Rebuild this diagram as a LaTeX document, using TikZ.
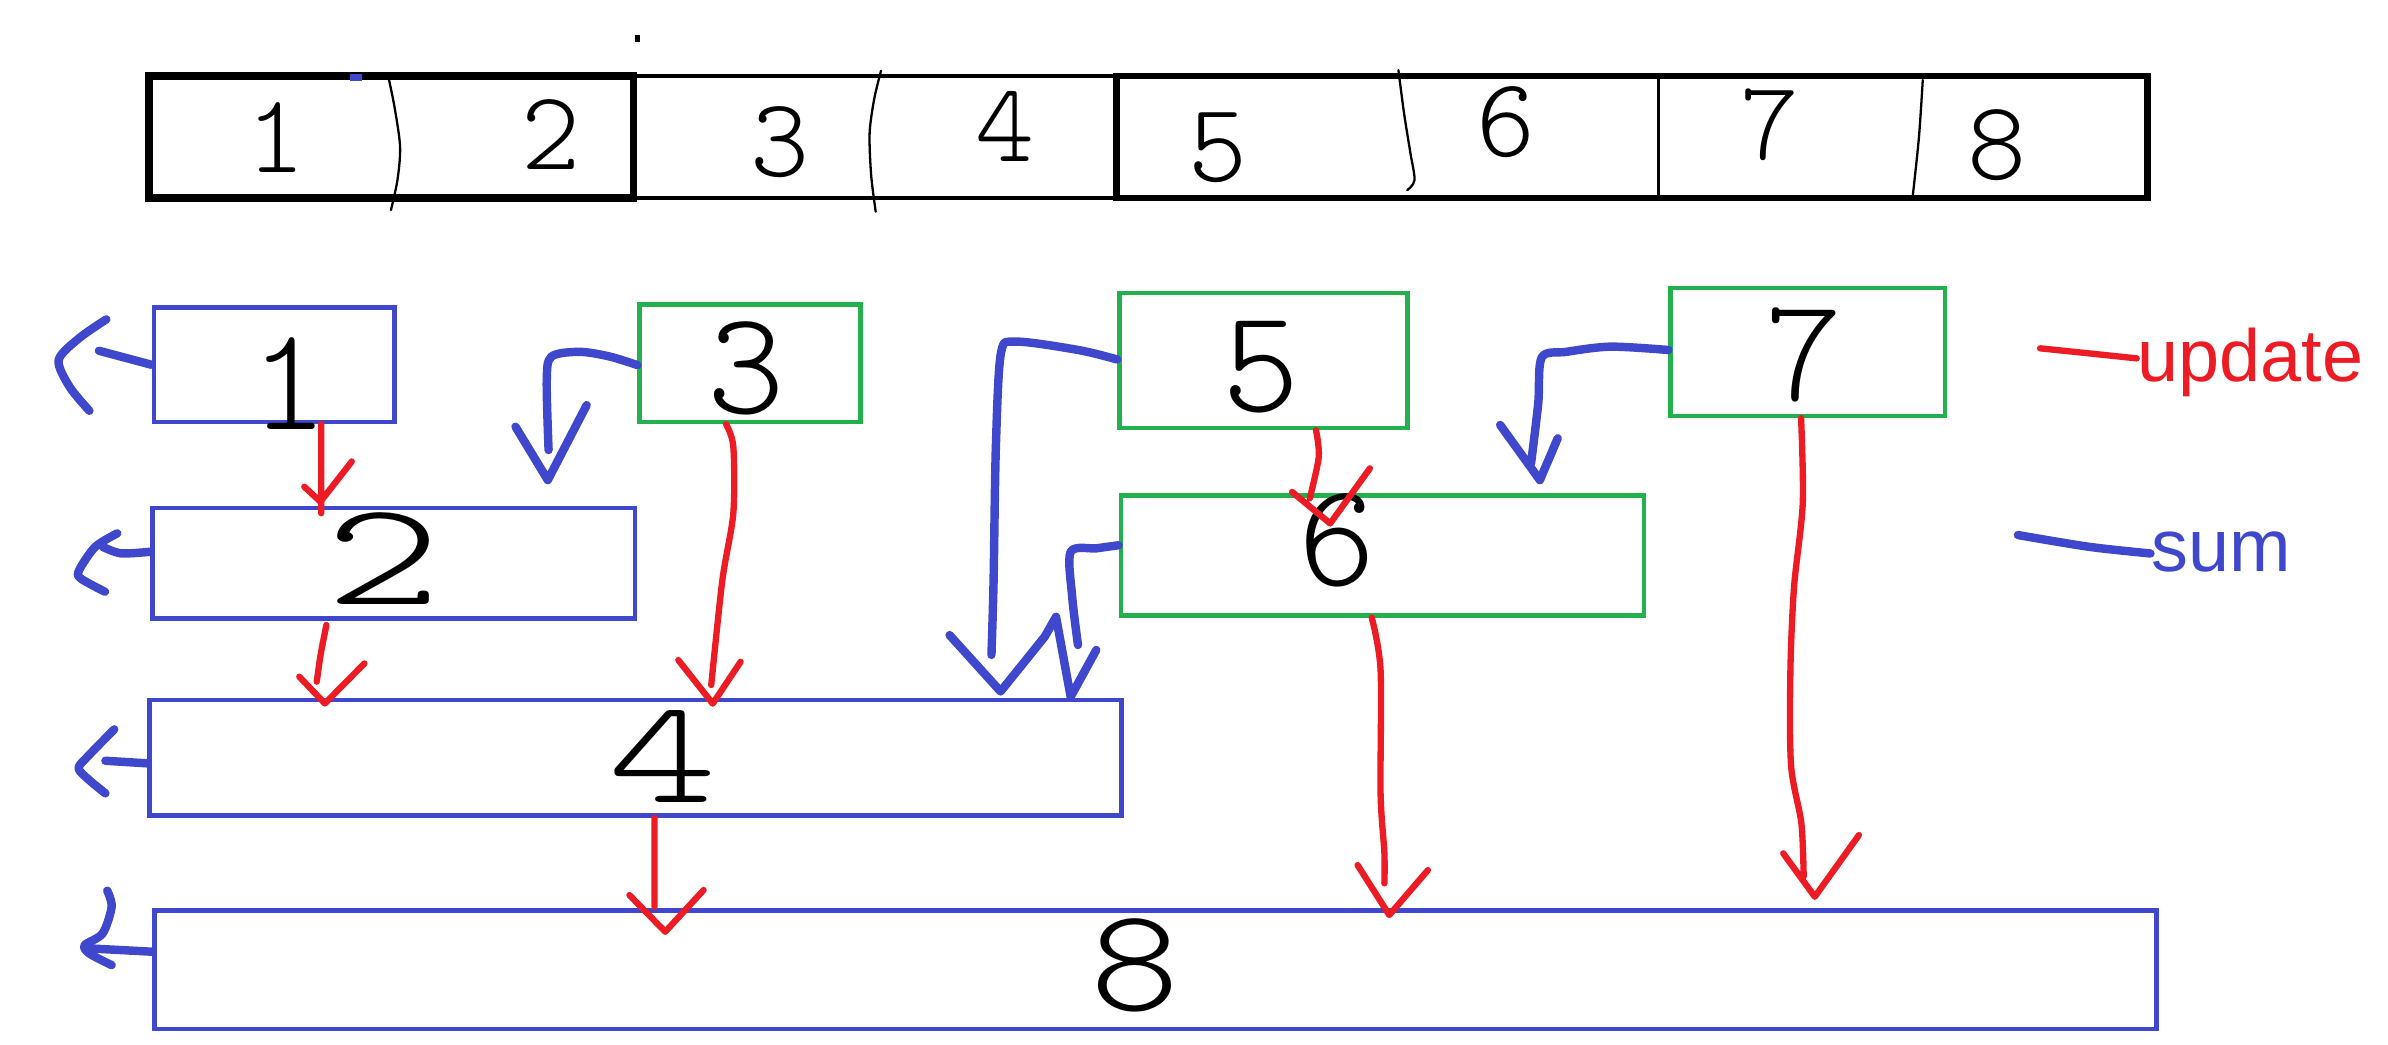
\documentclass[tikz,border=0pt]{standalone}
\usepackage{fontspec}
\newfontfamily\legendfont{Liberation Sans}
\newfontfamily\thinfont{lmmonolt10-regular.otf}
\usetikzlibrary{fit}
\definecolor{pblue}{HTML}{3F48CC}
\definecolor{pgreen}{HTML}{22B14C}
\definecolor{pred}{HTML}{ED1C24}
\tikzset{
  box/.style={draw, line width=1.3pt, inner sep=0pt},
  bluebox/.style={box, draw=pblue},
  greenbox/.style={box, draw=pgreen},
  cell/.style={draw=black, inner sep=0pt},
  upd/.style={draw=pred, line width=1.8pt, line cap=round, line join=round},
  sumln/.style={draw=pblue, line width=2.4pt, line cap=round, line join=round},
  pen/.style={draw=black, line width=0.65pt, line cap=round},
  bigdigit/.style={inner sep=0pt, font=\thinfont\fontsize{42}{42}\selectfont},
  celldigit/.style={inner sep=0pt, font=\thinfont\fontsize{32}{32}\selectfont},
  legend/.style={inner sep=0pt, font=\legendfont\fontsize{21}{21}\selectfont},
}
\begin{document}
\begin{tikzpicture}[x=0.01523cm, y=-0.01523cm]
\useasboundingbox (0,0) rectangle (1568,686);

% ---- top array bar ----
\node[cell, line width=2.2pt, fit={(98,50)(416,130)}] (cA) {};
\node[cell, line width=1.2pt, fit={(416,50)(733,130)}] (cB) {};
\node[cell, line width=1.8pt, fit={(733,50)(1410,130)}] (cC) {};
\draw[line width=1.1pt] (1089,50) -- (1089,130);
% hand drawn dividers
\draw[pen] plot[smooth] coordinates {(254.6,48.6) (259,70) (262.7,96.3) (261,118) (256.7,137.9)};
\draw[pen] plot[smooth] coordinates {(578.5,46.4) (574,65) (571,87.5) (572,115) (575,139)};
\draw[pen] plot[smooth] coordinates {(918.2,46) (922,75) (926,100) (928.8,118.2) (924,124.8)};
\draw[pen] plot[smooth] coordinates {(1262.5,52.5) (1260,90) (1256,128)};
\fill[pblue] (230,48.5) rectangle (238,53.5);
\fill[black] (417,23) rectangle (420,27.5);

\node[celldigit] (t1) at (181,90) {1};
\node[celldigit] (t2) at (362,88) {2};
\node[celldigit] (t3) at (512,93) {3};
\node[celldigit] (t4) at (660,83) {4};
\node[celldigit] (t5) at (800,97) {5};
\node[celldigit] (t6) at (989,80) {6};
\node[celldigit] (t7) at (1162,82) {7};
\node[celldigit] (t8) at (1311,95) {8};

% ---- tree boxes ----
\node[bluebox, fit={(101,202)(259,277)}] (b1) {};
\node[greenbox, fit={(420,200)(565,277)}] (b3) {};
\node[greenbox, fit={(735,192.5)(924,281)}] (b5) {};
\node[greenbox, fit={(1097,189)(1277,273)}] (b7) {};
\node[bluebox, fit={(100,333.6)(417,406)}] (b2) {};
\node[greenbox, fit={(736,325.5)(1079.5,404)}] (b6) {};
\node[bluebox, fit={(98,459.6)(736.5,535.5)}] (b4) {};
\node[bluebox, fit={(101.4,598)(1416,675.5)}] (b8) {};

\node[bigdigit] (n1) at (190,252) {1};
\node[bigdigit] (n3) at (490,242) {3};
\node[bigdigit] (n5) at (828,241) {5};
\node[bigdigit] (n7) at (1185,233) {7};
\node[bigdigit, xscale=1.5] (n2) at (252,367) {2};
\node[bigdigit] (n6) at (878,355) {6};
\node[bigdigit, xscale=1.4] (n4) at (435,497) {4};
\node[bigdigit, xscale=1.15] (n8) at (745,634) {8};

% ---- update (red) ----
\draw[upd] (b1.south -| 210.9,0) -- (210.9,337)
  (199.8,319.6) -- (210.4,329.4) -- (231,303);
\draw[upd] plot[smooth] coordinates {(214.3,410.4) (210.5,430) (208,447.6)}
  (196.5,444.3) -- (213.3,461.9) -- (239.3,435.6);
\draw[upd] plot[smooth] coordinates {(b3.south -| 476.7,0) (481.5,293.3) (481.5,337) (474.3,381) (467,449.8)}
  (445.4,433.4) -- (468,462) -- (486.3,434.5);
\draw[upd] plot[smooth] coordinates {(b5.south -| 864.1,0) (865.9,300) (860,327.2)}
  (848.4,323) -- (873.4,343.7) -- (899.5,307.5);
\draw[upd] plot[smooth] coordinates {(b6.south -| 900.7,0) (906.5,440) (906.5,521) (909,560) (909,580)}
  (891.4,568) -- (912.2,600.8) -- (937.6,571.3);
\draw[upd] plot[smooth] coordinates {(b7.south -| 1182.6,0) (1183.7,330.5) (1178,385.3) (1175.6,440) (1176,502.3) (1182.8,540.6) (1184.3,575.6)}
  (1170.9,560.3) -- (1191.6,588.8) -- (1220.6,548.3);
\draw[upd] (b4.south -| 429.8,0) -- (429.8,595.4)
  (413.3,587.7) -- (436.8,611.8) -- (462,584.4);

% ---- sum (blue) ----
\draw[sumln] (b1.west) -- (65,230.3);
\draw[sumln] plot[smooth] coordinates {(69.8,209.7) (52,222) (38.5,236.4) (45.7,254) (58.7,269.7)};
\draw[sumln] plot[smooth] coordinates {(b2.west |- 0,362.3) (79.4,363.3) (67.4,359)};
\draw[sumln] plot[smooth] coordinates {(77,350.2) (62.6,359) (52,374.3) (53,379.8) (68.9,388.5)};
\draw[sumln] (b4.west |- 0,501.2) -- (69.2,499.5);
\draw[sumln] plot[smooth] coordinates {(75,478.9) (57.5,496.8) (51.6,504.5) (58.6,512.2) (69.2,520.9)};
\draw[sumln] (b8.west |- 0,624.9) -- (58.6,622.7);
\draw[sumln] plot[smooth] coordinates {(70.4,584.8) (73.3,595.3) (67.4,612.9) (55.7,620.5) (58.6,626) (73.3,633.7)};

\draw[sumln] plot[smooth] coordinates {(b3.west |- 0,239.7) (400,234) (380.4,231) (362,234.2) (359,250) (360.2,295.5)}
  (338.5,280.2) -- (359.7,315.2) -- (385.2,266);
\draw[sumln] plot[smooth] coordinates {(b5.west |- 0,236) (708,229.8) (667,224.3) (657.2,232) (653.9,293.3) (652.4,381) (651,430)};
\draw[sumln] (623.5,417) -- (657,454) -- (686,418) -- (693.4,405) -- (703,457.5) -- (719.8,426.8);
\draw[sumln] plot[smooth] coordinates {(b6.west |- 0,358) (720,360) (703,362.3) (704,391.8) (707.8,423.5)};
\draw[sumln] plot[smooth] coordinates {(b7.west |- 0,229.8) (1057.6,227.6) (1028.6,231) (1012.3,234.7) (1010,265) (1005.3,304.3)}
  (985,279) -- (1011.1,315.2) -- (1022.8,287.8);

% ---- legend ----
\node[legend, text=pred, anchor=base west] (lu) at (1403,250.6) {update};
\draw[upd] plot[smooth] coordinates {(1339.5,228.7) (1371.5,232) (lu.west |- 0,235.3)};
\node[legend, text=pblue, anchor=base west] (ls) at (1412,375.4) {sum};
\draw[sumln] plot[smooth] coordinates {(1325,351.3) (1371.5,359) (ls.west |- 0,363.4)};
\end{tikzpicture}
\end{document}
